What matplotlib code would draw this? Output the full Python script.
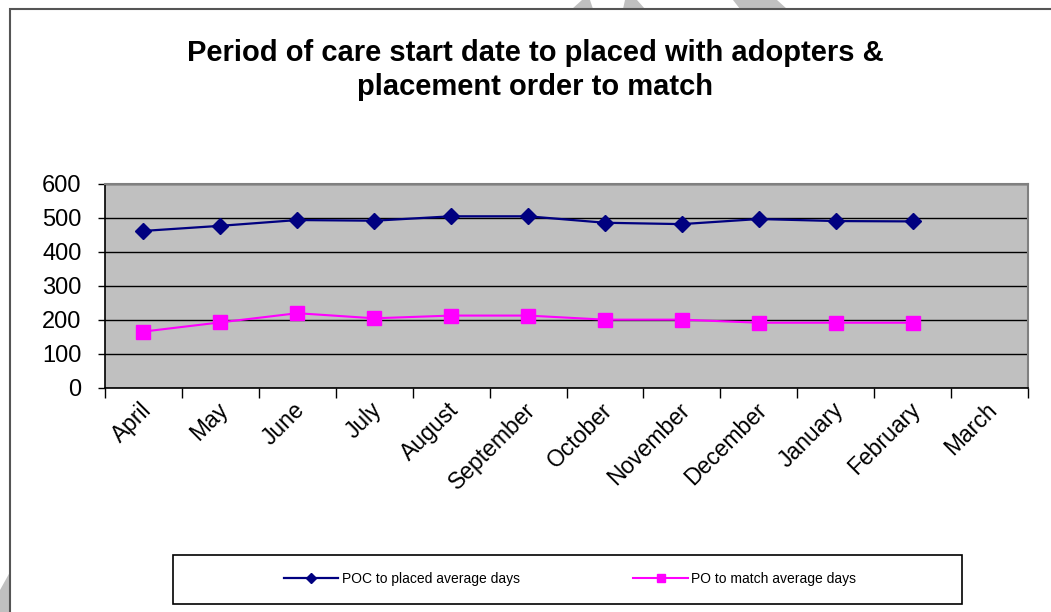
import matplotlib
matplotlib.use("Agg")
import matplotlib.pyplot as plt
from matplotlib.patches import Polygon, Rectangle

plt.rcParams["font.family"] = ["Liberation Sans", "DejaVu Sans"]

# --- data ---
months = ["April", "May", "June", "July", "August", "September", "October",
          "November", "December", "January", "February", "March"]
poc_to_placed = [462, 477, 494, 492, 505, 505, 486, 482, 497, 491, 490]
po_to_match = [166, 193, 220, 205, 213, 213, 201, 201, 192, 192, 192]
y_ticks = [0, 100, 200, 300, 400, 500, 600]

W, H = 1051, 612
fig = plt.figure(figsize=(W / 100, H / 100), dpi=100)
fig.patch.set_facecolor("white")


def px(x, y):
    # image pixels (top-left origin) -> figure fraction
    return x / W, 1 - y / H


# faint watermark strokes peeking out behind the chart frame
strokes = [
    [(582, 0), (590, 0), (593, 9), (572, 9)],
    [(625, 0), (637, 0), (645, 9), (623, 9)],
    [(733, 0), (777, 0), (787, 9), (740, 9)],
    [(0, 590), (10, 572), (10, 612), (0, 612)],
]
for s in strokes:
    fig.patches.append(Polygon([px(*p) for p in s], closed=True, transform=fig.transFigure,
                               facecolor="#c0c0c0", edgecolor="none", zorder=0))

# chart frame (right and bottom edges run off the picture)
fx, fy = px(10, 9)
fig.patches.append(Rectangle((fx, -0.05), 1.1, fy + 0.05, transform=fig.transFigure,
                             facecolor="white", edgecolor="#555555", linewidth=1.5, zorder=1))

# plot area
l, t = px(105, 184)
r, b = px(1028, 388)
ax = fig.add_axes([l, b, r - l, t - b], zorder=2)
ax.set_facecolor("#c0c0c0")

x = list(range(len(poc_to_placed)))
ax.plot(x, poc_to_placed, color="#000080", linewidth=1.6, marker="D", markersize=8,
        label="POC to placed average days", zorder=3)
ax.plot(range(len(po_to_match)), po_to_match, color="#ff00ff", linewidth=1.5, marker="s",
        markersize=10, label="PO to match average days", zorder=3)

ax.set_ylim(0, 600)
ax.set_yticks(y_ticks)
ax.set_xlim(-0.5, len(months) - 0.5)
ax.set_xticks([i - 0.5 for i in range(len(months) + 1)])
ax.set_xticklabels([])
ax.tick_params(axis="x", length=7, width=1, direction="out", color="black")
ax.tick_params(axis="y", length=5, width=1, direction="out", color="black",
               labelsize=17, pad=12)
ax.yaxis.grid(True, color="black", linewidth=1)
ax.set_axisbelow(True)

for i, m in enumerate(months):
    ax.text(i - 0.05, -30, m, rotation=45, rotation_mode="anchor", ha="right", va="top",
            fontsize=16.5, transform=ax.transData, clip_on=False)

for side in ("top", "right"):
    ax.spines[side].set_color("#808080")
    ax.spines[side].set_linewidth(1.5)
for side in ("bottom", "left"):
    ax.spines[side].set_color("black")
    ax.spines[side].set_linewidth(1.2)

# title
tx, ty = px(535, 70)
fig.text(tx, ty, "Period of care start date to placed with adopters &\nplacement order to match",
         ha="center", va="center", fontsize=21, fontweight="bold", linespacing=1.3, zorder=3)

# legend box
lx, ly = px(173, 604)
rx, ry = px(962, 555)
fig.patches.append(Rectangle((lx, ly), rx - lx, ry - ly, transform=fig.transFigure,
                             facecolor="white", edgecolor="black", linewidth=1.2, zorder=2))
cx, cy = px(570, 579)
handles, labels = ax.get_legend_handles_labels()
leg = fig.legend(handles, labels, loc="center", bbox_to_anchor=(cx, cy), ncol=2,
                 frameon=False, fontsize=10, handlelength=3.9, handletextpad=0.25,
                 columnspacing=8.2, markerscale=0.6)
leg.set_zorder(3)

fig.savefig("out.png", dpi=100)
